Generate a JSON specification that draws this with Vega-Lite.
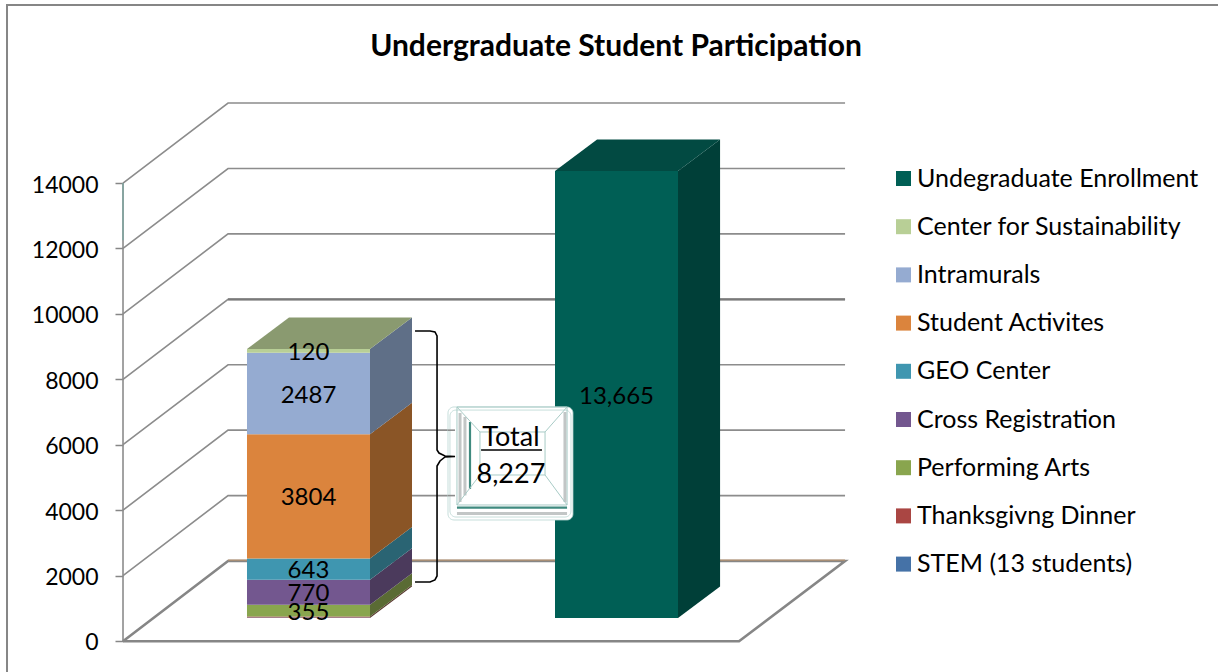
{
"$schema":"https://vega.github.io/schema/vega-lite/v6.json",
"width":1218,"height":672,"padding":0,"autosize":{"type":"none"},"background":"white",
"config":{"font":"Lato","view":{"stroke":null}},
"title":{"text":"Undergraduate Student Participation","font":"Lato","fontSize":30,"fontWeight":"bold","color":"#000000","anchor":"middle","dx":7,"orient":"top","offset":-86,"baseline":"alphabetic"},
"datasets":{
"faces":[
{"key":"STEM (13 students)","x":0,"y":703,"y2":716},{"key":"STEM (13 students)","x":1,"y":703,"y2":716},
{"key":"Thanksgivng Dinner","x":0,"y":716,"y2":751},{"key":"Thanksgivng Dinner","x":1,"y":716,"y2":751},
{"key":"Performing Arts","x":0,"y":751,"y2":1106},{"key":"Performing Arts","x":1,"y":751,"y2":1106},
{"key":"Cross Registration","x":0,"y":1106,"y2":1876},{"key":"Cross Registration","x":1,"y":1106,"y2":1876},
{"key":"GEO Center","x":0,"y":1876,"y2":2519},{"key":"GEO Center","x":1,"y":1876,"y2":2519},
{"key":"Student Activites","x":0,"y":2519,"y2":6323},{"key":"Student Activites","x":1,"y":2519,"y2":6323},
{"key":"Intramurals","x":0,"y":6323,"y2":8810},{"key":"Intramurals","x":1,"y":6323,"y2":8810},
{"key":"Center for Sustainability","x":0,"y":8810,"y2":8930},{"key":"Center for Sustainability","x":1,"y":8810,"y2":8930},
{"key":"Thanksgivng Dinner side","x":1,"y":703,"y2":751},{"key":"Thanksgivng Dinner side","x":1.3415,"y":1666,"y2":1714},
{"key":"Performing Arts side","x":1,"y":751,"y2":1106},{"key":"Performing Arts side","x":1.3415,"y":1714,"y2":2069},
{"key":"Cross Registration side","x":1,"y":1106,"y2":1876},{"key":"Cross Registration side","x":1.3415,"y":2069,"y2":2839},
{"key":"GEO Center side","x":1,"y":1876,"y2":2519},{"key":"GEO Center side","x":1.3415,"y":2839,"y2":3482},
{"key":"Student Activites side","x":1,"y":2519,"y2":6323},{"key":"Student Activites side","x":1.3415,"y":3482,"y2":7286},
{"key":"Intramurals side","x":1,"y":6323,"y2":8930},{"key":"Intramurals side","x":1.3415,"y":7286,"y2":9893},
{"key":"Center top","x":0,"y":8930,"y2":8930},{"key":"Center top","x":0.3415,"y":8930,"y2":9893},{"key":"Center top","x":1,"y":8930,"y2":9893},{"key":"Center top","x":1.3415,"y":9893,"y2":9893},
{"key":"Undegraduate Enrollment","x":2.504,"y":703,"y2":14368},{"key":"Undegraduate Enrollment","x":3.504,"y":703,"y2":14368},
{"key":"Enrollment side","x":3.504,"y":703,"y2":14368},{"key":"Enrollment side","x":3.846,"y":1666,"y2":15331},
{"key":"Enrollment top","x":2.504,"y":14368,"y2":14368},{"key":"Enrollment top","x":2.846,"y":14368,"y2":15331},{"key":"Enrollment top","x":3.504,"y":14368,"y2":15331},{"key":"Enrollment top","x":3.846,"y":15331,"y2":15331}
],
"labels":[
{"label":"355","x":0.5,"y":928},{"label":"770","x":0.5,"y":1491},{"label":"643","x":0.5,"y":2198},{"label":"3804","x":0.5,"y":4421},{"label":"2487","x":0.5,"y":7566},{"label":"120","x":0.5,"y":8870},{"label":"13,665","x":3.004,"y":7535}
],
"grid":[
{"level":2000,"n":1,"x":-1.008,"y":2000},{"level":2000,"n":2,"x":-0.154,"y":4445},{"level":2000,"n":3,"x":4.862,"y":4445},
{"level":4000,"n":1,"x":-1.008,"y":4000},{"level":4000,"n":2,"x":-0.154,"y":6445},{"level":4000,"n":3,"x":4.862,"y":6445},
{"level":6000,"n":1,"x":-1.008,"y":6000},{"level":6000,"n":2,"x":-0.154,"y":8445},{"level":6000,"n":3,"x":4.862,"y":8445},
{"level":8000,"n":1,"x":-1.008,"y":8000},{"level":8000,"n":2,"x":-0.154,"y":10445},{"level":8000,"n":3,"x":4.862,"y":10445},
{"level":10000,"n":1,"x":-1.008,"y":10000},{"level":10000,"n":2,"x":-0.154,"y":12445},{"level":10000,"n":3,"x":4.862,"y":12445},
{"level":12000,"n":1,"x":-1.008,"y":12000},{"level":12000,"n":2,"x":-0.154,"y":14445},{"level":12000,"n":3,"x":4.862,"y":14445},
{"level":14000,"n":1,"x":-1.008,"y":14000},{"level":14000,"n":2,"x":-0.154,"y":16445},{"level":14000,"n":3,"x":4.862,"y":16445},
{"level":"wall","n":1,"x":-1.008,"y":0},{"level":"wall","n":2,"x":-1.008,"y":14000}
],
"darkGrid":[{"n":1,"x":-0.154,"y":10445},{"n":2,"x":4.862,"y":10445}],
"floor":[
{"n":1,"x":-1.008,"y":-10},{"n":2,"x":4.0,"y":-10},{"n":3,"x":4.862,"y":2445},{"n":4,"x":-0.154,"y":2445},{"n":5,"x":-1.008,"y":-10}
],
"floorEdge":[{"n":1,"x":-0.154,"y":2475},{"n":2,"x":4.862,"y":2475}],
"wallTop":[{"n":1,"x":-1.008,"y":14000},{"n":2,"x":-1.008,"y":12250}],
"frame":[{"n":1,"x":-1.951,"y":-948},{"n":2,"x":-1.951,"y":19443},{"n":3,"x":7.894,"y":19443}],
"boxes":[
{"x":1.634,"x2":2.650,"y":3699,"y2":7154},
{"x":1.650,"x2":2.634,"y":3790,"y2":7060}
],
"bevelFill":[
{"part":"left","n":1,"x":1.707,"y":4158,"y2":7154},{"part":"left","n":2,"x":1.894,"y":5075,"y2":6390},
{"part":"face","n":1,"x":1.894,"y":5075,"y2":6390},{"part":"face","n":2,"x":2.423,"y":5075,"y2":6390},
{"part":"low","n":1,"x":1.650,"y":3760,"y2":4158},{"part":"low","n":2,"x":2.634,"y":3760,"y2":4158}
],
"bevelLines":[
{"id":"a","n":1,"x":1.707,"y":7154},{"id":"a","n":2,"x":2.602,"y":7154},{"id":"a","n":3,"x":2.602,"y":4158},{"id":"a","n":4,"x":1.707,"y":4158},{"id":"a","n":5,"x":1.707,"y":7154},
{"id":"b","n":1,"x":1.894,"y":6390},{"id":"b","n":2,"x":2.423,"y":6390},{"id":"b","n":3,"x":2.423,"y":5075},{"id":"b","n":4,"x":1.894,"y":5075},{"id":"b","n":5,"x":1.894,"y":6390},
{"id":"c","n":1,"x":1.707,"y":7154},{"id":"c","n":2,"x":1.894,"y":6390},
{"id":"d","n":1,"x":2.602,"y":7154},{"id":"d","n":2,"x":2.423,"y":6390},
{"id":"e","n":1,"x":1.707,"y":4158},{"id":"e","n":2,"x":1.894,"y":5075},
{"id":"f","n":1,"x":2.602,"y":4158},{"id":"f","n":2,"x":2.423,"y":5075}
],
"darkStripes":[
{"id":"s1","n":1,"x":1.813,"y":6695},{"id":"s1","n":2,"x":1.813,"y":4650},
{"id":"s2","n":1,"x":1.707,"y":4080},{"id":"s2","n":2,"x":2.602,"y":4080}
],
"grayStripes":[
{"id":"g1","n":1,"x":1.732,"y":6970},{"id":"g1","n":2,"x":1.732,"y":4250},
{"id":"g2","n":1,"x":1.707,"y":3900},{"id":"g2","n":2,"x":2.602,"y":3900},
{"id":"g3","n":1,"x":2.585,"y":7000},{"id":"g3","n":2,"x":2.585,"y":4250},
{"id":"g4","n":1,"x":1.772,"y":6850},{"id":"g4","n":2,"x":1.772,"y":4450}
],
"gridStubs":[
{"id":"t1","n":1,"x":1.634,"y":6445},{"id":"t1","n":2,"x":1.691,"y":6445},
{"id":"t2","n":1,"x":1.634,"y":4445},{"id":"t2","n":2,"x":1.691,"y":4445}
],
"bracket":[
{"n":1,"x":1.366,"y":9478},{"n":2,"x":1.488,"y":9478},{"n":3,"x":1.528,"y":9447},{"n":4,"x":1.545,"y":9324},{"n":5,"x":1.545,"y":5839},{"n":6,"x":1.561,"y":5747},{"n":7,"x":1.610,"y":5656},{"n":8,"x":1.691,"y":5640},{"n":9,"x":1.610,"y":5625},{"n":10,"x":1.569,"y":5503},{"n":11,"x":1.545,"y":5350},{"n":12,"x":1.545,"y":1987},{"n":13,"x":1.528,"y":1865},{"n":14,"x":1.488,"y":1804},{"n":15,"x":1.366,"y":1804}
],
"calloutText":[{"t":"Total","x":2.146,"y":6200},{"t":"8,227","x":2.146,"y":5070}],
"underline":[{"n":1,"x":1.903,"y":5839},{"n":2,"x":2.398,"y":5839}]
},
"encoding":{
"x":{"field":"x","type":"quantitative","scale":{"domain":[-2.008,7.894],"nice":false,"zero":false},"axis":null},
"y":{"field":"y","type":"quantitative","scale":{"domain":[-948,19596],"nice":false,"zero":false},
"axis":{"title":null,"values":[0,2000,4000,6000,8000,10000,12000,14000],"offset":-123,"format":"d","domain":false,"grid":false,"tickColor":"#868686","tickSize":8,"tickWidth":1.5,"labelPadding":17,"labelFontSize":23,"labelColor":"#000000","labelFont":"Lato","labelOffset":2}}
},
"layer":[
{"data":{"name":"frame"},"mark":{"type":"line","color":"#868686","strokeWidth":2,"interpolate":"linear"},"encoding":{"order":{"field":"n"}}},
{"data":{"name":"grid"},"mark":{"type":"line","color":"#8c8c8c","strokeWidth":1.6},"encoding":{"detail":{"field":"level"},"order":{"field":"n"}}},
{"data":{"name":"darkGrid"},"mark":{"type":"line","color":"#7a7a7a","strokeWidth":2.2},"encoding":{"order":{"field":"n"}}},
{"data":{"name":"wallTop"},"mark":{"type":"line","color":"#7fa5a0","strokeWidth":1.5},"encoding":{"order":{"field":"n"}}},
{"data":{"name":"floor"},"mark":{"type":"line","color":"#868686","strokeWidth":2.6},"encoding":{"order":{"field":"n"}}},
{"data":{"name":"floorEdge"},"mark":{"type":"line","color":"#b3906f","strokeWidth":1.2},"encoding":{"order":{"field":"n"}}},
{"data":{"name":"faces"},"mark":{"type":"area","interpolate":"linear"},"encoding":{
"y2":{"field":"y2"},
"color":{"field":"key","type":"nominal","title":null,
"scale":{"domain":["Undegraduate Enrollment","Center for Sustainability","Intramurals","Student Activites","GEO Center","Cross Registration","Performing Arts","Thanksgivng Dinner","STEM (13 students)","Thanksgivng Dinner side","Performing Arts side","Cross Registration side","GEO Center side","Student Activites side","Intramurals side","Center top","Enrollment side","Enrollment top"],
"range":["#005f55","#b8cf96","#95abd1","#db843d","#3f96b0","#73578f","#89a54e","#aa4643","#4572a7","#5a3a30","#5a6b34","#4b3a5c","#2a6473","#8a5526","#5f6f87","#8a9a70","#003f38","#024a42"]},
"legend":{"orient":"none","legendX":891,"legendY":166,"padding":0,"values":["Undegraduate Enrollment","Center for Sustainability","Intramurals","Student Activites","GEO Center","Cross Registration","Performing Arts","Thanksgivng Dinner","STEM (13 students)"],"symbolType":"square","symbolSize":225,"symbolStrokeWidth":0,"labelFontSize":25,"labelFont":"Lato","labelColor":"#000000","labelOffset":1,"rowPadding":22.2,"labelLimit":320}
}}},
{"data":{"name":"labels"},"mark":{"type":"text","fontSize":24,"color":"#000000","baseline":"middle","align":"center","dy":2},"encoding":{"text":{"field":"label"}}},
{"data":{"name":"boxes"},"mark":{"type":"rect","fill":"#ffffff","stroke":"#b9d6d2","strokeWidth":0.8,"cornerRadius":6},"encoding":{"x2":{"field":"x2"},"y2":{"field":"y2"}}},
{"data":{"name":"bevelFill"},"mark":{"type":"area","color":"#eef2f2"},"encoding":{"y2":{"field":"y2"},"detail":{"field":"part"},"order":{"field":"n"}}},
{"data":{"name":"grayStripes"},"mark":{"type":"line","color":"#c2c6c6","strokeWidth":3},"encoding":{"detail":{"field":"id"},"order":{"field":"n"}}},
{"data":{"name":"darkStripes"},"mark":{"type":"line","color":"#3f8a7f","strokeWidth":2.2},"encoding":{"detail":{"field":"id"},"order":{"field":"n"}}},
{"data":{"name":"bevelLines"},"mark":{"type":"line","color":"#a8cbc6","strokeWidth":1},"encoding":{"detail":{"field":"id"},"order":{"field":"n"}}},
{"data":{"name":"gridStubs"},"mark":{"type":"line","color":"#8c8c8c","strokeWidth":1.6},"encoding":{"detail":{"field":"id"},"order":{"field":"n"}}},
{"data":{"name":"bracket"},"mark":{"type":"line","color":"#000000","strokeWidth":1.6},"encoding":{"order":{"field":"n"}}},
{"data":{"name":"calloutText"},"mark":{"type":"text","fontSize":27,"color":"#000000","baseline":"middle","align":"center"},"encoding":{"text":{"field":"t"}}},
{"data":{"name":"underline"},"mark":{"type":"line","color":"#000000","strokeWidth":1.5},"encoding":{"order":{"field":"n"}}}
]
}
